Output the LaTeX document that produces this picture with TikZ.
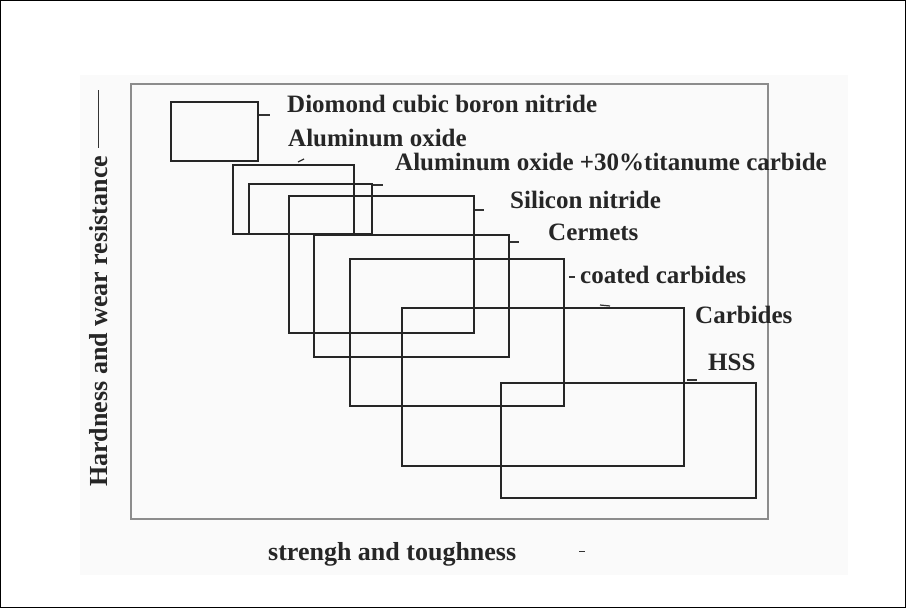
\documentclass[tikz,border=0pt]{standalone}
\usepackage{fontspec}
\setmainfont{Liberation Serif}
\usepackage{tikz}

\tikzset{
 matbox/.style={draw=black!85, line width=1.8pt, inner sep=0pt, anchor=north west},
 lab/.style={anchor=base west, inner sep=0pt, font=\bfseries\fontsize{25}{30}\selectfont, text=black!85},
 axlab/.style={lab, font=\bfseries\fontsize{26}{30}\selectfont},
 tick/.style={draw=black!80, line width=1.2pt}
}

\begin{document}
\begin{tikzpicture}[x=1pt, y=-1pt]
 \useasboundingbox (0,0) rectangle (906,608);
 \fill[black!2] (80,75) rectangle (848,575);
 \draw[line width=1pt] (0.5,0.5) rectangle (905.5,607.5);
 \node[draw=black!45, line width=1.6pt, inner sep=0pt, anchor=north west,
  minimum width=637, minimum height=435] at (130,83)(frame){};

 \node[matbox, minimum width=87, minimum height=59] at (170,101)(cbn){};
 \node[matbox, minimum width=121, minimum height=69] at (232,164)(alox){};
 \node[matbox, minimum width=123, minimum height=50] at (248,183)(altic){};
 \node[matbox, minimum width=185, minimum height=137] at (288,195)(sin){};
 \node[matbox, minimum width=195, minimum height=122] at (313,234)(cermet){};
 \node[matbox, minimum width=214, minimum height=147] at (349,258)(coated){};
 \node[matbox, minimum width=282, minimum height=158] at (401,307)(carb){};
 \node[matbox, minimum width=255, minimum height=115] at (500,382)(hss){};

 \node[lab] at (287,112)(cbnlab){Diomond cubic boron nitride};
 \node[lab] at (288,146)(aloxlab){Aluminum oxide};
 \node[lab] at (395,170)(alticlab){Aluminum oxide +30\%titanume carbide};
 \node[lab] at (510,208)(sinlab){Silicon nitride};
 \node[lab] at (548,240)(cermetlab){Cermets};
 \node[lab] at (580,283)(coatedlab){coated carbides};
 \node[lab] at (695,323)(carblab){Carbides};
 \node[lab] at (708,370)(hsslab){HSS};

 \draw[tick] (cbn.north east) ++(0,14) -- ++(11,0);
 \draw[tick] (alox.north west) ++(66,-2) -- ++(6,-3);
 \draw[tick] (altic.north east) ++(0,2) -- ++(10,0);
 \draw[tick] (sin.north east) ++(0,15) -- ++(9,0);
 \draw[tick] (cermet.north east) ++(0,8) -- ++(9,0);
 \draw[tick] (coated.north east) ++(4,19) -- ++(6,0);
 \draw[tick] (carb.north west) ++(199,-2) -- ++(10,1);
 \draw[tick] (hss.north west) ++(187,-2) -- ++(10,0);

 \node[axlab, rotate=90] at (107,487)(ylab){Hardness and wear resistance};
 \draw[tick] (ylab.east) ++(0,-8) -- ++(0,-58);
 \node[axlab] at (268,560)(xlab){strengh and toughness};
 \draw[tick] (xlab.east) ++(63,-2) -- ++(6,0);
\end{tikzpicture}
\end{document}
